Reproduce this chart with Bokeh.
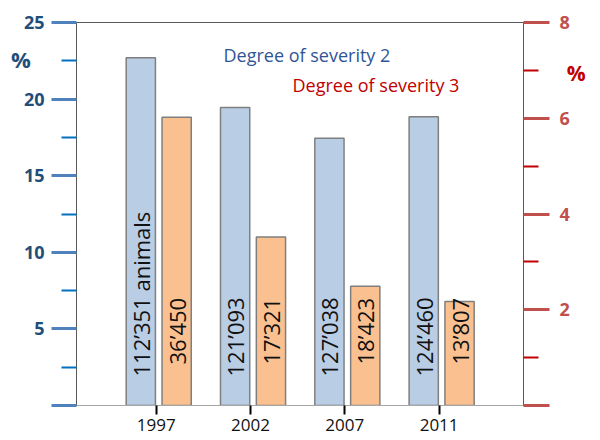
from math import pi
from bokeh.plotting import figure
from bokeh.models import Range1d, LinearAxis, FixedTicker, ColumnDataSource, Label
from bokeh.transform import dodge
from bokeh.embed import file_html
from bokeh.resources import INLINE
from bokeh.core.properties import value

# ---- data ----
years = ["1997", "2002", "2007", "2011"]
severity2_pct = [22.7, 19.45, 17.45, 18.85]
severity3_pct = [6.02, 3.52, 2.49, 2.17]
severity2_animals = ["112\u2019351  animals", "121\u2019093", "127\u2019038", "124\u2019460"]
severity3_animals = ["36\u2019450", "17\u2019321", "18\u2019423", "13\u2019807"]
left_ticks = [0, 5, 10, 15, 20, 25]
right_ticks = [0, 2, 4, 6, 8]

idx = list(range(len(years)))
src = ColumnDataSource(dict(x=idx, s2=severity2_pct, s3=severity3_pct,
                            l2=severity2_animals, l3=severity3_animals,
                            zero=[0] * len(idx)))

FONT = "Open Sans"

p = figure(width=600, height=440, output_backend="svg", toolbar_location=None,
           x_range=Range1d(-0.845, 3.895), y_range=Range1d(0, 25),
           min_border_left=76, min_border_right=77, min_border_top=22, min_border_bottom=35)
p.extra_y_ranges = {"right": Range1d(0, 8)}
p.grid.visible = False
p.outline_line_color = "#595959"
p.outline_line_width = 1
p.background_fill_color = "white"
p.border_fill_color = "white"

# bars
p.vbar(x=dodge("x", -0.163, range=p.x_range), top="s2", width=0.31, source=src,
       fill_color="#b9cde5", line_color="#7f7f7f", line_width=1.5)
p.vbar(x=dodge("x", 0.217, range=p.x_range), top="s3", width=0.31, source=src,
       fill_color="#fac090", line_color="#7f7f7f", line_width=1.5, y_range_name="right")

# rotated count labels
p.text(x=dodge("x", -0.163, range=p.x_range), y="zero", text="l2", source=src,
       angle=pi / 2, text_align="left", text_baseline="middle", y_offset=-29,
       text_font=value(FONT), text_font_size="22px", text_color="#111111")
p.text(x=dodge("x", 0.217, range=p.x_range), y="zero", text="l3", source=src,
       angle=pi / 2, text_align="left", text_baseline="middle", y_offset=-41,
       text_font=value(FONT), text_font_size="22px", text_color="#111111")

# x axis
xa = p.xaxis[0]
xa.ticker = FixedTicker(ticks=idx)
xa.major_label_overrides = {i: y for i, y in zip(idx, years)}
xa.axis_line_color = "#a6a6a6"
xa.major_tick_in = 0
xa.major_tick_out = 9
xa.major_tick_line_color = "black"
xa.major_tick_line_width = 2
xa.minor_tick_line_color = None
xa.major_label_standoff = 4
xa.major_label_text_font = FONT
xa.major_label_text_font_size = "17px"
xa.major_label_text_color = "#111111"

# left axis
ya = p.yaxis[0]
ya.ticker = FixedTicker(ticks=left_ticks, minor_ticks=[2.5, 7.5, 12.5, 17.5, 22.5])
ya.major_label_overrides = {0: ""}
ya.axis_line_color = "#595959"
ya.major_tick_in = 0
ya.major_tick_out = 25
ya.major_tick_line_color = "#4f81bd"
ya.major_tick_line_width = 3
ya.minor_tick_in = 0
ya.minor_tick_out = 15
ya.minor_tick_line_color = "#0070c0"
ya.minor_tick_line_width = 2
ya.major_label_standoff = 7
ya.major_label_text_font = FONT
ya.major_label_text_font_size = "18px"
ya.major_label_text_font_style = "bold"
ya.major_label_text_color = "#1f4e79"
ya.axis_label = "\n\n%"
ya.axis_label_orientation = "horizontal"
ya.axis_label_align = "end"
ya.axis_label_standoff = -10
ya.axis_label_text_font = FONT
ya.axis_label_text_font_size = "22px"
ya.axis_label_text_font_style = "bold"
ya.axis_label_text_color = "#1f4e79"

# right axis
ra = LinearAxis(y_range_name="right",
                ticker=FixedTicker(ticks=right_ticks, minor_ticks=[1, 3, 5, 7]))
ra.major_label_overrides = {0: ""}
ra.axis_line_color = "#595959"
ra.major_tick_in = 0
ra.major_tick_out = 26
ra.major_tick_line_color = "#c0504d"
ra.major_tick_line_width = 3
ra.minor_tick_in = 0
ra.minor_tick_out = 15
ra.minor_tick_line_color = "#c00000"
ra.minor_tick_line_width = 2
ra.major_label_standoff = 10
ra.major_label_text_font = FONT
ra.major_label_text_font_size = "18px"
ra.major_label_text_font_style = "bold"
ra.major_label_text_color = "#c0504d"
ra.major_label_text_baseline = "top"
ra.axis_label = "\n\n\n%"
ra.axis_label_orientation = "horizontal"
ra.axis_label_align = "end"
ra.axis_label_standoff = -6
ra.axis_label_text_font = FONT
ra.axis_label_text_font_size = "21px"
ra.axis_label_text_font_style = "bold"
ra.axis_label_text_color = "#c00000"
p.add_layout(ra, "right")

# series captions
p.add_layout(Label(x=0.714, y=22.91, text="Degree of severity 2", text_font=FONT,
                   text_font_size="18px", text_color="#2f5597", text_baseline="middle"))
p.add_layout(Label(x=1.446, y=20.95, text="Degree of severity 3", text_font=FONT,
                   text_font_size="18px", text_color="#c00000", text_baseline="middle"))

open("out.html", "w").write(file_html(p, INLINE))
